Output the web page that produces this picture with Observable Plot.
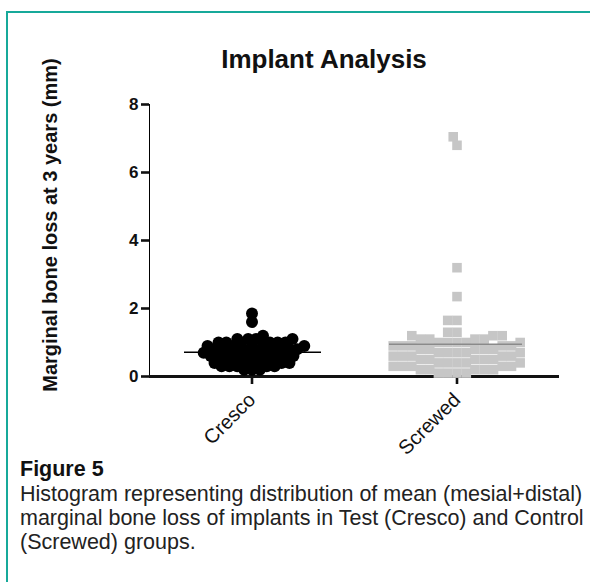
<!DOCTYPE html>
<html><head><meta charset="utf-8">
<script src="https://cdn.jsdelivr.net/npm/d3@7"></script>
<script src="https://cdn.jsdelivr.net/npm/@observablehq/plot@0.6"></script>
<style>
body{margin:0;background:#fff;font-family:"Liberation Sans",Arial,sans-serif;}
#wrap{position:relative;width:590px;height:582px;overflow:hidden;background:#fff;}
#frame{position:absolute;left:6px;top:11px;width:700px;height:700px;border-left:2px solid #17a99a;border-top:2px solid #17a99a;}
#chart{position:absolute;left:0;top:0;}
#title{position:absolute;left:324px;top:44px;transform:translateX(-50%);white-space:nowrap;font-weight:bold;font-size:26px;color:#111;}
#ylab{position:absolute;left:50px;top:225px;transform:translate(-50%,-50%) rotate(-90deg);white-space:nowrap;font-weight:bold;font-size:20px;color:#111;}
#cap{position:absolute;left:20px;top:456px;width:580px;color:#222;font-size:21.5px;line-height:24px;white-space:nowrap;}
#cap b{font-size:21.5px;display:block;line-height:26px;color:#111;}
svg text{fill:#111;}
[aria-label^="y-axis"] text{font-weight:bold;font-size:17px;}
[aria-label^="fx-axis"] text{font-weight:normal;font-size:20px;}
[aria-label^="y-axis"] path,[aria-label^="y-axis"] line,[aria-label^="fx-axis"] path,[aria-label^="fx-axis"] line{stroke-width:2.6px;stroke:#111;}
</style></head>
<body>
<div id="wrap">
<div id="frame"></div>
<div id="chart"></div>
<div id="title">Implant Analysis</div>
<div id="ylab">Marginal bone loss at 3 years (mm)</div>
<div id="cap"><b>Figure 5</b>Histogram representing distribution of mean (mesial+distal)<br>marginal bone loss of implants in Test (Cresco) and Control<br>(Screwed) groups.</div>
</div>
<script>
const groups = ["Cresco", "Screwed"];
const yTicks = [0, 2, 4, 6, 8];
const crescoValues = [
  0.2, 0.2, 0.2,
  0.3, 0.3, 0.3, 0.3, 0.3,
  0.4, 0.4, 0.4, 0.4, 0.4,
  0.5, 0.5, 0.5, 0.5, 0.5,
  0.6, 0.6, 0.6, 0.6, 0.6, 0.6,
  0.7, 0.7, 0.7, 0.7, 0.7, 0.7,
  0.8, 0.8, 0.8, 0.8, 0.8, 0.8,
  0.9, 0.9, 0.9, 0.9, 0.9, 0.9,
  1.0, 1.0, 1.0, 1.0, 1.0,
  1.1, 1.1, 1.1, 1.1,
  1.2, 1.85, 1.6
];
const screwedValues = [
  0.1, 0.1, 0.1, 0.1,
  0.2, 0.2, 0.2, 0.2, 0.2,
  0.3, 0.3, 0.3, 0.3, 0.3,
  0.4, 0.4, 0.4, 0.4, 0.4,
  0.5, 0.5, 0.5, 0.5, 0.5,
  0.6, 0.6, 0.6, 0.6, 0.6,
  0.7, 0.7, 0.7, 0.7, 0.7,
  0.8, 0.8, 0.8, 0.8, 0.8,
  0.9, 0.9, 0.9, 0.9, 0.9,
  1.0, 1.0, 1.0, 1.0, 1.0,
  1.1, 1.1, 1.1, 1.1,
  1.2, 1.2, 1.2,
  1.3, 1.3,
  1.65, 1.65, 2.35, 3.2, 6.8, 7.05
];
const cresco = crescoValues.map(v => ({group: groups[0], value: v}));
const screwed = screwedValues.map(v => ({group: groups[1], value: v}));

const chart = Plot.plot({
  width: 590, height: 440,
  marginLeft: 148, marginRight: 31, marginTop: 104, marginBottom: 64,
  style: {fontFamily: "'Liberation Sans', Arial, sans-serif", fontSize: "16px", background: "transparent", overflow: "visible"},
  fx: {domain: groups, axis: "bottom", padding: 0, label: null, tickRotate: -45, tickSize: 8, tickPadding: 12},
  y: {domain: [0, 8], ticks: yTicks, tickSize: 8, tickPadding: 3, line: true, label: null},
  marks: [
    Plot.ruleY([0], {stroke: "#111", strokeWidth: 3}),
    Plot.dot(screwed, Plot.dodgeX({anchor: "middle", padding: -1.5}, {fx: "group", y: "value", r: 5.4, symbol: "square", fill: "#c6c6c6"})),
    Plot.ruleY(screwed, Plot.groupZ({y: "mean"}, {fx: "group", y: "value", stroke: "#8a8a8a", strokeWidth: 1.5, insetLeft: 35, insetRight: 37})),
    Plot.dot(cresco, Plot.dodgeX({anchor: "middle", padding: -4.2}, {fx: "group", y: "value", r: 6, fill: "#000"})),
    Plot.ruleY(cresco, Plot.groupZ({y: "mean"}, {fx: "group", y: "value", stroke: "#000", strokeWidth: 1.5, insetLeft: 35, insetRight: 33}))
  ]
});
document.getElementById("chart").appendChild(chart);
</script>
</body></html>
